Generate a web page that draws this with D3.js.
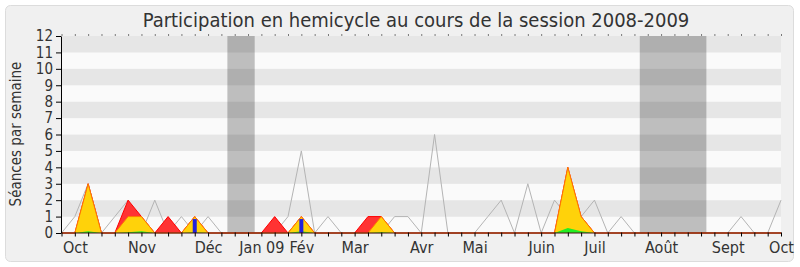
<!DOCTYPE html>
<html>
<head>
<meta charset="utf-8">
<script src="https://cdn.jsdelivr.net/npm/d3@7"></script>
<style>
  body { margin: 0; background: #ffffff; }
  svg text { font-family: "DejaVu Sans Condensed", "DejaVu Sans", sans-serif; fill: #333; }
</style>
</head>
<body>
<svg id="chart" width="800" height="267"></svg>
<script>
// one value per week of the session (week 0 = end of Sept 2008)
const mediane      = [0,1,3,0,1,2,0,2,0,1,0,1,0,0,0,0,0,1,5,0,1,0,0,0,0,1,1,0,6,0,0,0,1,2,0,3,0,2,1,1,2,0,1,0,0,0,0,0,0,0,0,1,0,0,2];
const presences    = [0,0,3,0,0,2,1,0,1,0,1,0,0,0,0,0,1,0,1,0,0,0,0,1,1,0,0,0,0,0,0,0,0,0,0,0,0,0,4,1,0,0,0,0,0,0,0,0,0,0,0,0,0,0,0];
const interventions= [0,0,3,0,0,1,1,0,0,0,1,0,0,0,0,0,0,0,1,0,0,0,0,0,1,0,0,0,0,0,0,0,0,0,0,0,0,0,4,1,0,0,0,0,0,0,0,0,0,0,0,0,0,0,0];
const courtes      = [0,0,0.1,0,0,0.05,0.1,0,0,0,0.05,0,0,0,0,0,0,0,0.1,0,0,0,0,0,0.05,0,0,0,0,0,0,0,0,0,0,0,0,0,0.3,0.1,0,0,0,0,0,0,0,0,0,0,0,0,0,0,0];
const questions    = [0,0,0,0,0,0,0,0,0,0,0.85,0,0,0,0,0,0,0,0.85,0,0,0,0,0,0,0,0,0,0,0,0,0,0,0,0,0,0,0,0,0,0,0,0,0,0,0,0,0,0,0,0,0,0,0,0];

const monthLabels = ["Oct","Nov","Déc","Jan 09","Fév","Mar","Avr","Mai","Juin","Juil","Août","Sept","Oct"];
const monthWeeks  = [1,6,11,15,18,22,27,31,36,40,45,50,54];

const vacStart = [12.45, 43.4];
const vacEnd   = [14.5, 48.4];

const yTicks = [0,1,2,3,4,5,6,7,8,9,10,11,12];

const svg = d3.select("#chart");
const weeks = mediane.map((d, i) => i);

// panel
svg.append("rect")
    .attr("x", 5.5).attr("y", 5.5)
    .attr("width", 788).attr("height", 256)
    .attr("rx", 5)
    .attr("fill", "#f0f0f0")
    .attr("stroke", "#dcdcdc");

const xScale = d3.scaleLinear().domain([0, weeks.length - 1]).range([61.5, 781]);
const yScale = d3.scaleLinear().domain([0, 12]).range([233, 36]);

// background stripes
const plot = svg.append("g");
plot.selectAll(".band")
    .data(yTicks.slice(0, -1))
    .enter()
    .append("rect")
    .attr("x", xScale(0))
    .attr("width", xScale(weeks.length - 1) - xScale(0))
    .attr("y", d => yScale(d + 1))
    .attr("height", d => yScale(d) - yScale(d + 1))
    .attr("fill", d => d % 2 === 1 ? "#e6e6e6" : "#fafafa");

// holidays
plot.selectAll(".vac")
    .data(vacStart)
    .enter()
    .append("rect")
    .attr("x", d => xScale(d))
    .attr("width", (d, i) => xScale(vacEnd[i]) - xScale(d))
    .attr("y", yScale(12))
    .attr("height", yScale(0) - yScale(12))
    .attr("fill", "rgba(0,0,0,0.24)");

// median line
const line = d3.line().x((d, i) => xScale(i)).y(d => yScale(d));
plot.append("path")
    .attr("d", line(mediane))
    .attr("fill", "none")
    .attr("stroke", "#b4b4b4")
    .attr("stroke-width", 1);

const area = d3.area().x((d, i) => xScale(i)).y0(yScale(0)).y1(d => yScale(d));

function drawSerie(values, fill, stroke) {
    plot.append("path")
        .attr("d", area(values))
        .attr("fill", fill);
    if (stroke) {
        plot.append("path")
            .attr("d", line(values))
            .attr("fill", "none")
            .attr("stroke", stroke)
            .attr("stroke-width", 1);
    }
}

drawSerie(presences, "#ff3333", "#ff0000");
drawSerie(interventions, "#ffd20a", "#ff7a00");
drawSerie(courtes, "#22ee22", null);

plot.selectAll(".question")
    .data(questions.map((q, i) => ({week: i, value: q})).filter(d => d.value > 0))
    .enter()
    .append("rect")
    .attr("class", "question")
    .attr("x", d => xScale(d.week) - 2)
    .attr("width", 4)
    .attr("y", d => yScale(d.value))
    .attr("height", d => yScale(0) - yScale(d.value))
    .attr("fill", "#2222dd");

// axes
const xAxis = svg.append("g")
    .attr("transform", "translate(0," + (yScale(0) - 0.5) + ")")
    .call(d3.axisBottom(xScale)
        .tickValues(weeks)
        .tickSize(4)
        .tickSizeOuter(0)
        .tickFormat(d => {
            const j = monthWeeks.indexOf(d);
            return j >= 0 ? monthLabels[j] : "";
        }));
xAxis.select(".domain").attr("stroke", "#4a1010");
xAxis.selectAll("text").attr("font-size", 16).attr("dy", "0.85em").attr("fill", "#333");

svg.append("g")
    .attr("transform", "translate(0," + (yScale(12) - 0.5) + ")")
    .call(d3.axisTop(xScale).tickValues(weeks).tickSize(1).tickFormat(""))
    .call(g => g.select(".domain").remove());

const yAxis = svg.append("g")
    .attr("transform", "translate(" + (xScale(0) - 0.5) + ",0)")
    .call(d3.axisLeft(yScale).tickValues(yTicks).tickSize(5).tickPadding(3).tickSizeOuter(0));
yAxis.selectAll("text").attr("font-size", 15).attr("fill", "#333");

svg.append("text")
    .attr("transform", "translate(21,134) rotate(-90)")
    .attr("text-anchor", "middle")
    .attr("font-size", 15)
    .text("Séances par semaine");

svg.append("text")
    .attr("x", 416)
    .attr("y", 27)
    .attr("text-anchor", "middle")
    .attr("font-size", 20)
    .text("Participation en hemicycle au cours de la session 2008-2009");
</script>
</body>
</html>
